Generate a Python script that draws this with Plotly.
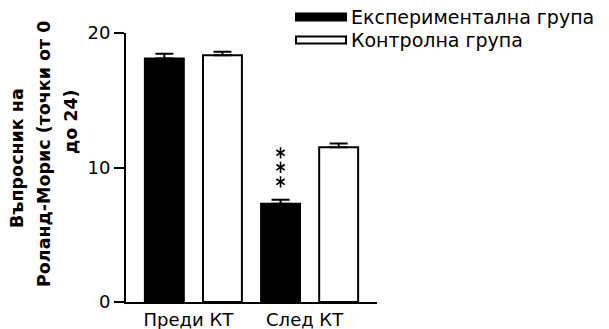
import plotly.graph_objects as go

# Data
groups = ["Преди КТ", "След КТ"]
series_names = ["Експериментална група", "Контролна група"]
experimental = [18.1, 7.3]
experimental_sem = [0.35, 0.3]
control = [18.35, 11.5]
control_sem = [0.25, 0.28]
y_ticks = [0, 10, 20]
significance = [0, 3]  # number of stars, experimental vs control

FONT = "DejaVu Sans, Liberation Sans, Arial, sans-serif"

# Plot area in pixels (609 x 329 canvas)
W, H = 609, 329
X0, X1 = 126, 377
Y0, Y1 = 33, 302
Y_RANGE = [0, 20]
PX_PER_UNIT = (Y1 - Y0) / (Y_RANGE[1] - Y_RANGE[0])


def px_x(p):
    return (p - X0) / (X1 - X0)


def px_y(p):
    return (Y1 - p) / (Y1 - Y0)


pos = list(range(len(groups)))

fig = go.Figure()
fig.add_trace(go.Bar(
    x=pos, y=experimental, name=series_names[0],
    marker=dict(color="black", line=dict(color="black", width=2)),
    error_y=dict(type="data", array=experimental_sem, arrayminus=[0] * len(groups),
                 symmetric=False, color="black", thickness=2, width=9),
))
fig.add_trace(go.Bar(
    x=pos, y=control, name=series_names[1],
    marker=dict(color="white", line=dict(color="black", width=2)),
    error_y=dict(type="data", array=control_sem, arrayminus=[0] * len(groups),
                 symmetric=False, color="black", thickness=2, width=9),
))

# Significance stars stacked above the experimental bars (six-armed asterisks)
sx, sy, ssym = [], [], []
for i, n in enumerate(significance):
    top = experimental[i] + experimental_sem[i]
    for k in range(n):
        yk = top + (18 + 14.5 * k) / PX_PER_UNIT
        for sym in ("y-up-open", "y-down-open"):
            sx.append(pos[i] - 0.25)
            sy.append(yk)
            ssym.append(sym)
fig.add_trace(go.Scatter(
    x=sx, y=sy, mode="markers", hoverinfo="skip",
    marker=dict(symbol=ssym, size=7, color="black", line=dict(color="black", width=1.6)),
))

annotations = []
# Y axis title, three centred lines rotated
title_lines = [("Въпросник на", 17, 158), ("Роланд-Морис (точки от 0", 44, 154), ("до 24)", 71, 122)]
for text, cx, cy in title_lines:
    annotations.append(dict(
        x=px_x(cx), y=px_y(cy), xref="paper", yref="paper", text=f"<b>{text}</b>",
        textangle=-90, showarrow=False, xanchor="center", yanchor="middle",
        font=dict(family=FONT, size=17.5, color="black"),
    ))

# Legend
shapes = []
legend_rows = [(series_names[0], "black", 17), (series_names[1], "white", 40)]
for name, fill, cy in legend_rows:
    shapes.append(dict(
        type="rect", xref="paper", yref="paper",
        x0=px_x(296), x1=px_x(346), y0=px_y(cy - 3.5), y1=px_y(cy + 3.5),
        fillcolor=fill, line=dict(color="black", width=2),
    ))
    annotations.append(dict(
        x=px_x(349), y=px_y(cy), xref="paper", yref="paper", text=name,
        showarrow=False, xanchor="left", yanchor="middle",
        font=dict(family=FONT, size=19, color="black"),
    ))

fig.update_layout(
    width=W, height=H,
    margin=dict(l=X0, r=W - X1, t=Y0, b=H - Y1, pad=0, autoexpand=False),
    paper_bgcolor="white", plot_bgcolor="white",
    barmode="group", bargap=0, bargroupgap=0.33,
    showlegend=False,
    annotations=annotations, shapes=shapes,
    font=dict(family=FONT, color="black"),
)
fig.update_xaxes(
    range=[-0.58, 1.58], tickvals=pos, ticktext=groups, automargin=False,
    showline=True, linecolor="black", linewidth=2,
    ticks="", showgrid=False, zeroline=False,
    ticklabelshift=-5,
    tickfont=dict(family=FONT, size=18, color="black"),
)
fig.update_yaxes(
    range=Y_RANGE, tickvals=y_ticks, automargin=False,
    showline=True, linecolor="black", linewidth=2,
    ticks="outside", ticklen=10, tickwidth=2, tickcolor="black",
    showgrid=False, zeroline=False,
    tickfont=dict(family=FONT, size=18, color="black"),
)

fig.write_html("out.html")
